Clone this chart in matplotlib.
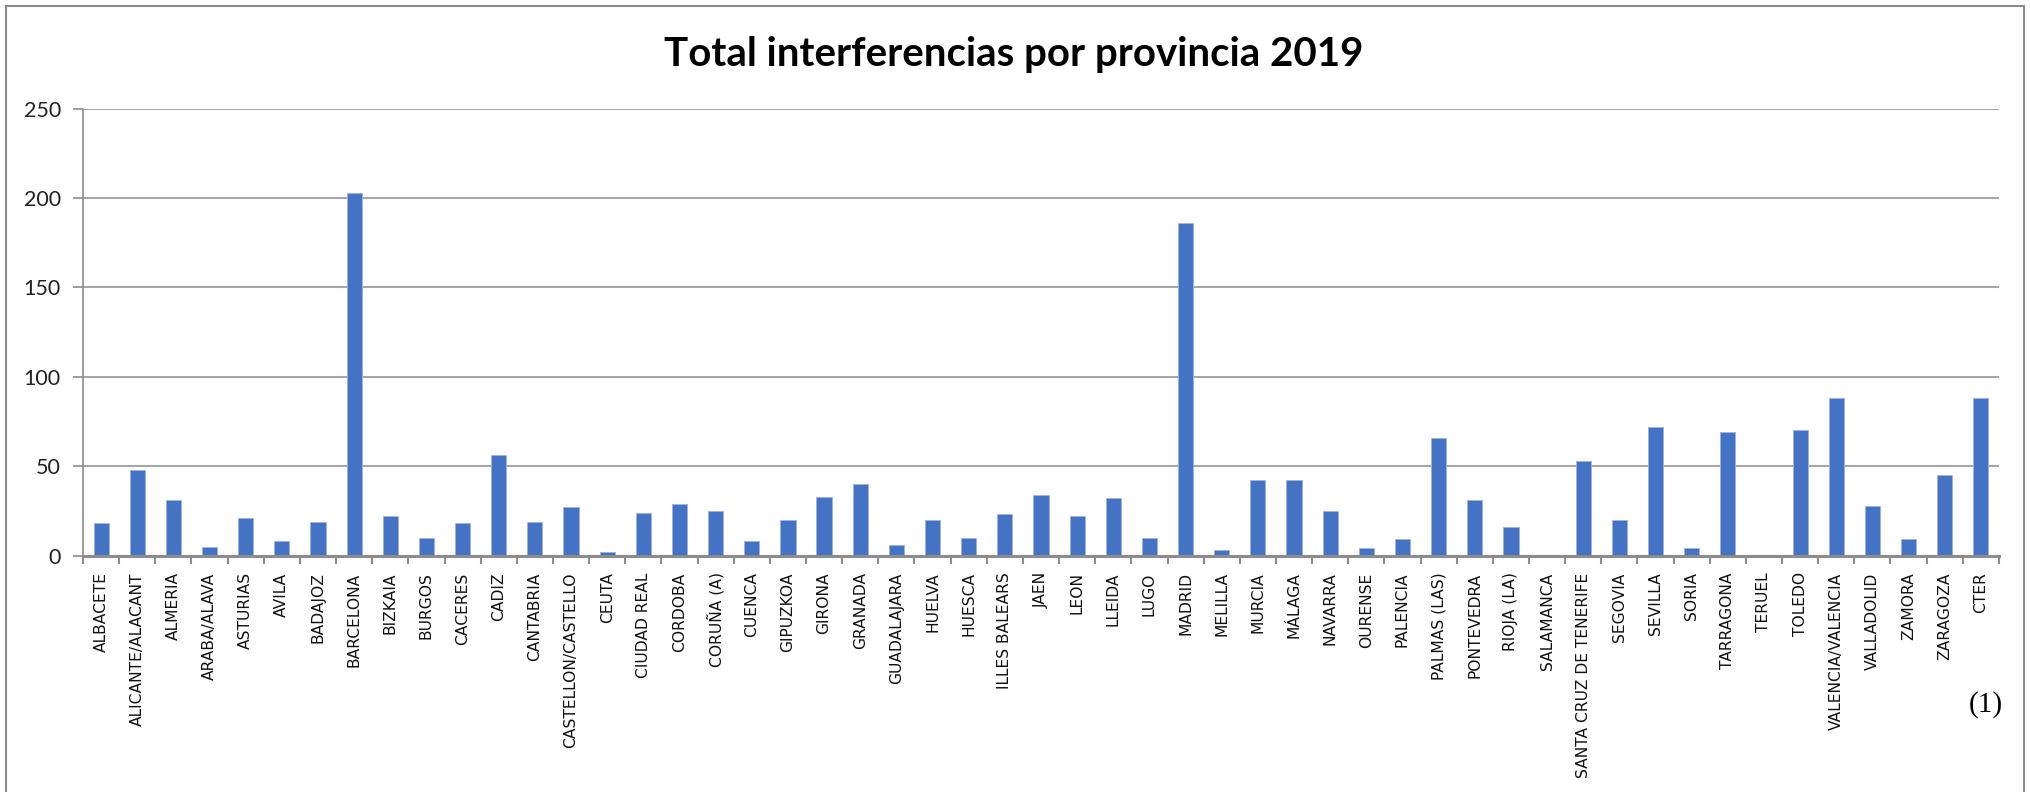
import matplotlib

matplotlib.use("Agg")
import matplotlib.pyplot as plt
from matplotlib.patches import Rectangle

# Values.
provincias = [
    "ALBACETE", "ALICANTE/ALACANT", "ALMERIA", "ARABA/ALAVA", "ASTURIAS",
    "AVILA", "BADAJOZ", "BARCELONA", "BIZKAIA", "BURGOS", "CACERES", "CADIZ",
    "CANTABRIA", "CASTELLON/CASTELLO", "CEUTA", "CIUDAD REAL", "CORDOBA",
    "CORUÑA (A)", "CUENCA", "GIPUZKOA", "GIRONA", "GRANADA", "GUADALAJARA",
    "HUELVA", "HUESCA", "ILLES BALEARS", "JAEN", "LEON", "LLEIDA", "LUGO",
    "MADRID", "MELILLA", "MURCIA", "MÁLAGA", "NAVARRA", "OURENSE", "PALENCIA",
    "PALMAS (LAS)", "PONTEVEDRA", "RIOJA (LA)", "SALAMANCA",
    "SANTA CRUZ DE TENERIFE", "SEGOVIA", "SEVILLA", "SORIA", "TARRAGONA",
    "TERUEL", "TOLEDO", "VALENCIA/VALENCIA", "VALLADOLID", "ZAMORA",
    "ZARAGOZA", "CTER",
]
interferencias = [
    18, 48, 31, 5, 21, 8, 19, 203, 22, 10, 18, 56, 19, 27, 2, 24, 29,
    25, 8, 20, 33, 40, 6, 20, 10, 23, 34, 22, 32, 10, 186, 3, 42, 42, 25,
    4, 9, 66, 31, 16, 0, 53, 20, 72, 4, 69, 0, 70, 88, 28, 9, 45, 88,
]
y_ticks = [0, 50, 100, 150, 200, 250]

BLUE = "#4472C4"
GRID = "#A6A6A6"
AXIS = "#8C8C8C"

fig = plt.figure(figsize=(20.3, 7.92), dpi=100)
ax = fig.add_axes([0.0409, 0.2985, 0.9438, 0.5645])

x = range(len(provincias))
ax.bar(x, interferencias, width=0.42, color=BLUE, edgecolor="#9DB4E0",
       linewidth=0.6, zorder=3)

ax.set_xlim(-0.5, len(provincias) - 0.5)
ax.set_ylim(0, 250)
ax.set_yticks(y_ticks)
ax.set_yticklabels([str(v) for v in y_ticks], family="Lato", fontsize=15.5,
                   color="#222222")
ax.yaxis.grid(True, color=GRID, linewidth=1.5, zorder=0)

ax.set_xticks(list(x))
ax.set_xticklabels(provincias, rotation=90, family="DejaVu Sans",
                   fontsize=11.2, color="#111111")
ax.tick_params(axis="x", which="major", length=0, pad=12)
ax.set_xticks([i - 0.5 for i in range(len(provincias) + 1)], minor=True)
ax.tick_params(axis="x", which="minor", length=6, width=1.5, color=AXIS,
               direction="out")
ax.tick_params(axis="y", length=7, width=1.2, color=AXIS, pad=9)

for side in ("top", "right"):
    ax.spines[side].set_visible(False)
ax.spines["left"].set_color(AXIS)
ax.spines["left"].set_linewidth(1.2)
ax.spines["bottom"].set_color(AXIS)
ax.spines["bottom"].set_linewidth(2.2)
ax.spines["bottom"].set_zorder(4)

fig.text(0.4995, 0.931, "Total interferencias por provincia 2019",
         ha="center", va="center", family="Lato", fontweight="bold",
         fontsize=29, color="#000000")
fig.text(0.978, 0.111, "(1)", ha="center", va="center",
         family="Liberation Serif", fontsize=21, color="#000000")

# Outer chart frame.
fig.patches.append(Rectangle((0.003, -0.02), 0.994, 1.013,
                             transform=fig.transFigure, fill=False,
                             edgecolor="#8C8C8C", linewidth=1.5))

fig.savefig("out.png", dpi=100)
